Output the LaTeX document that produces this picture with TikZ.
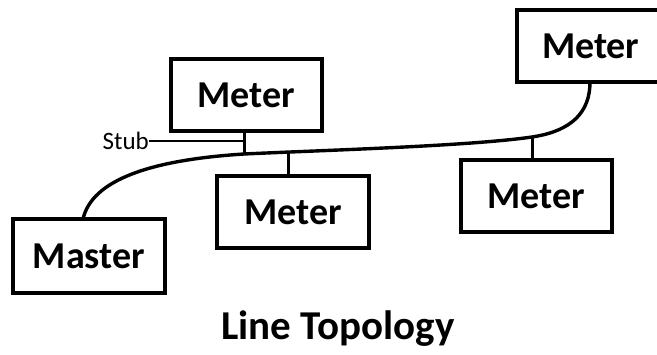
\documentclass[tikz,border=0pt]{standalone}
\usepackage{fontspec}
\setmainfont{Carlito}
\begin{document}
\begin{tikzpicture}[x=1pt,y=-1pt,
  meterbox/.style={draw=black,line width=3.6pt,minimum width=151pt,minimum height=72pt,inner sep=0pt,
    font=\bfseries\fontsize{38}{40}\selectfont},
  wire/.style={line width=3.4pt},
  stubline/.style={line width=3pt},
  labelline/.style={line width=2pt}]
\useasboundingbox (0,0) rectangle (657,355);
\begin{scope}
\clip (0,0) rectangle (657,355);
\node[meterbox] (m1) at (246.5,95) {Meter};
\node[meterbox,minimum width=152pt,minimum height=74pt] (master) at (89,256) {Master};
\node[meterbox,minimum width=152pt] (m2) at (293,212) {Meter};
\node[meterbox] (m3) at (536.5,196) {Meter};
\node[meterbox,text width=151pt,align=left] (m4) at (592.5,46) {\hspace*{25pt}Meter};
\coordinate (j0) at (83,219);
\coordinate (j1) at (244,154);
\coordinate (j2) at (288,152.6);
\coordinate (j3) at (532,137);
\coordinate (j4) at (590,82);
\draw[wire] (j0) .. controls (92,180) and (150,160) .. (j1)
  .. controls (330,150) and (470,146) .. (j3)
  .. controls (572,131) and (590,112) .. (j4);
\draw[stubline] (m1.south -| j1) -- (j1);
\draw[stubline] (m2.north -| j2) -- (j2);
\draw[stubline] (m3.north -| j3) -- (j3);
\node[anchor=east,inner sep=0pt,font=\fontsize{25}{26}\selectfont] (stub) at (149,141) {Stub};
\coordinate (s1) at (244,141);
\draw[labelline] (stub.east) -- (s1);
\node[font=\bfseries\fontsize{41}{43}\selectfont,inner sep=0pt] (title) at (338,329) {Line Topology};
\end{scope}
\end{tikzpicture}
\end{document}
